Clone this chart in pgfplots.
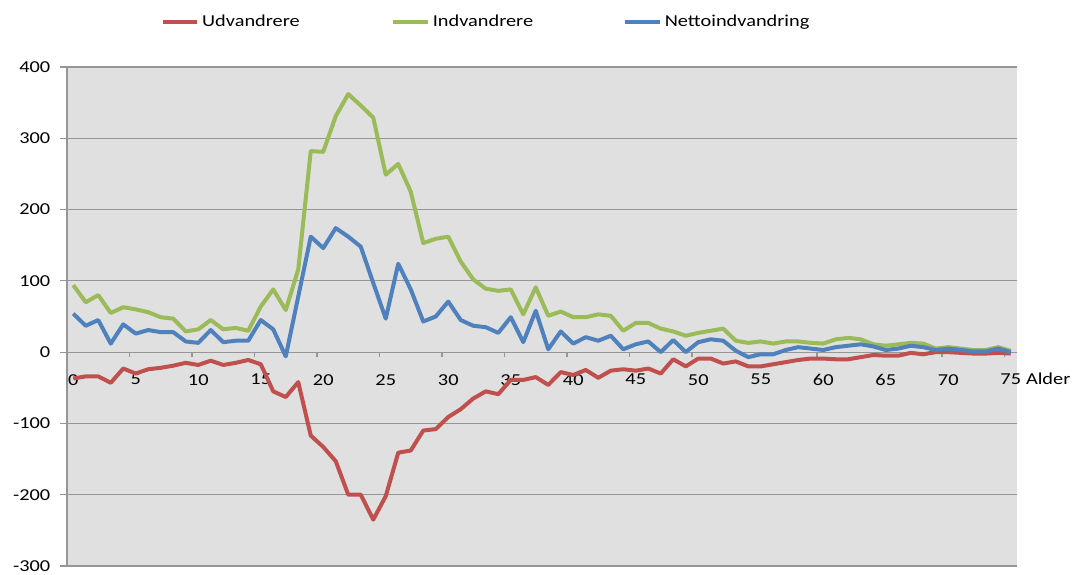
\documentclass[border=0pt]{standalone}
\usepackage{fontspec}
\setmainfont{Carlito}[FakeStretch=1.22]
\usepackage{pgfplots}
\usepackage{pgfplotstable}
\pgfplotsset{compat=1.18}
\definecolor{cred}{RGB}{192,80,77}
\definecolor{cgreen}{RGB}{155,187,89}
\definecolor{cblue}{RGB}{79,129,189}
\definecolor{cbg}{RGB}{224,224,224}
\definecolor{cgrid}{RGB}{150,150,150}
\pgfplotstableread{
x udv ind net
0 -37 94 54
1 -34 70 37
2 -34 80 45
3 -43 55 12
4 -23 63 39
5 -30 60 26
6 -24 56 31
7 -22 49 28
8 -19 47 28
9 -15 29 15
10 -18 32 13
11 -12 45 31
12 -18 32 14
13 -15 34 16
14 -11 30 16
15 -17 64 45
16 -55 88 32
17 -63 59 -6
18 -42 116 78
19 -117 282 162
20 -133 281 146
21 -153 331 174
22 -200 362 162
23 -200 346 148
24 -235 329 97
25 -202 249 47
26 -141 264 124
27 -138 225 88
28 -110 153 43
29 -108 159 50
30 -91 162 71
31 -80 127 45
32 -65 102 37
33 -55 89 35
34 -59 86 27
35 -39 88 49
36 -39 53 14
37 -35 91 58
38 -46 51 4
39 -28 57 29
40 -32 49 12
41 -25 49 21
42 -36 53 16
43 -26 51 23
44 -24 30 4
45 -26 41 11
46 -23 41 15
47 -30 33 0
48 -10 29 17
49 -20 23 0
50 -9 27 14
51 -9 30 18
52 -16 33 16
53 -13 16 2
54 -20 13 -7
55 -20 15 -3
56 -17 12 -3
57 -14 15 3
58 -11 15 7
59 -9 13 5
60 -9 12 3
61 -10 18 7
62 -10 20 9
63 -7 18 11
64 -4 11 8
65 -5 9 3
66 -5 11 5
67 -1 13 9
68 -3 12 7
69 0 5 3
70 0 7 5
71 -1 5 3
72 -2 3 1
73 -2 3 1
74 -1 7 5
75 -2 2 0
}\data
\begin{document}
\begin{tikzpicture}
\begin{axis}[
  name=ax,
  scale only axis,
  width=712.5pt, height=374.25pt,
  xmin=-0.5, xmax=75.5, ymin=-300, ymax=400,
  enlargelimits=false,
  clip=false,
  axis background/.style={fill=cbg},
  axis x line=middle,
  axis y line=left,
  axis line style={draw=cgrid, line width=0.8pt, -},
  hide obscured y ticks=false,
  hide obscured x ticks=false,
  tick align=outside,
  xtick={0,5,...,75},
  minor xtick={4.5,9.5,...,74.5},
  every major x tick/.append style={draw=none},
  every minor x tick/.append style={draw=cgrid, line width=0.8pt},
  minor tick length=4pt,
  ytick={-300,-200,...,400},
  major tick length=5pt,
  every major y tick/.append style={draw=cgrid, line width=0.8pt},
  ymajorgrids,
  major grid style={draw=cgrid, line width=0.8pt},
  /pgf/number format/assume math mode=true,
  tick label style={font=\fontsize{12.5}{14}\selectfont, text=black},
  xticklabel style={yshift=-8pt},
  yticklabel style={xshift=-4pt},
  legend columns=3,
  legend style={at={(0.444,1.09)}, anchor=center, draw=none, fill=none,
    font=\fontsize{12.5}{14}\selectfont, inner sep=0pt,
    nodes={inner sep=2pt}},
  legend cell align=left,
  legend image code/.code={\draw[#1, line width=3pt] (0pt,0pt) -- (26pt,0pt);},
]
\addplot[cred, line width=3pt, line join=round] table[x=x, y=udv] {\data};
\addlegendentry{\makebox[140pt][l]{Udvandrere}}
\addplot[cgreen, line width=3pt, line join=round] table[x=x, y=ind] {\data};
\addlegendentry{\makebox[141pt][l]{Indvandrere}}
\addplot[cblue, line width=3pt, line join=round] table[x=x, y=net] {\data};
\addlegendentry{\makebox[112pt][l]{Nettoindvandring}}
\node[anchor=west, font=\fontsize{12.5}{14}\selectfont, inner sep=0pt] at (axis cs:76.2,-37) {Alder};
\end{axis}
\pgfresetboundingbox
\useasboundingbox ([shift={(-50.25pt,-6pt)}]ax.south west) rectangle ([shift={(42pt,50.25pt)}]ax.north east);
\end{tikzpicture}
\end{document}
